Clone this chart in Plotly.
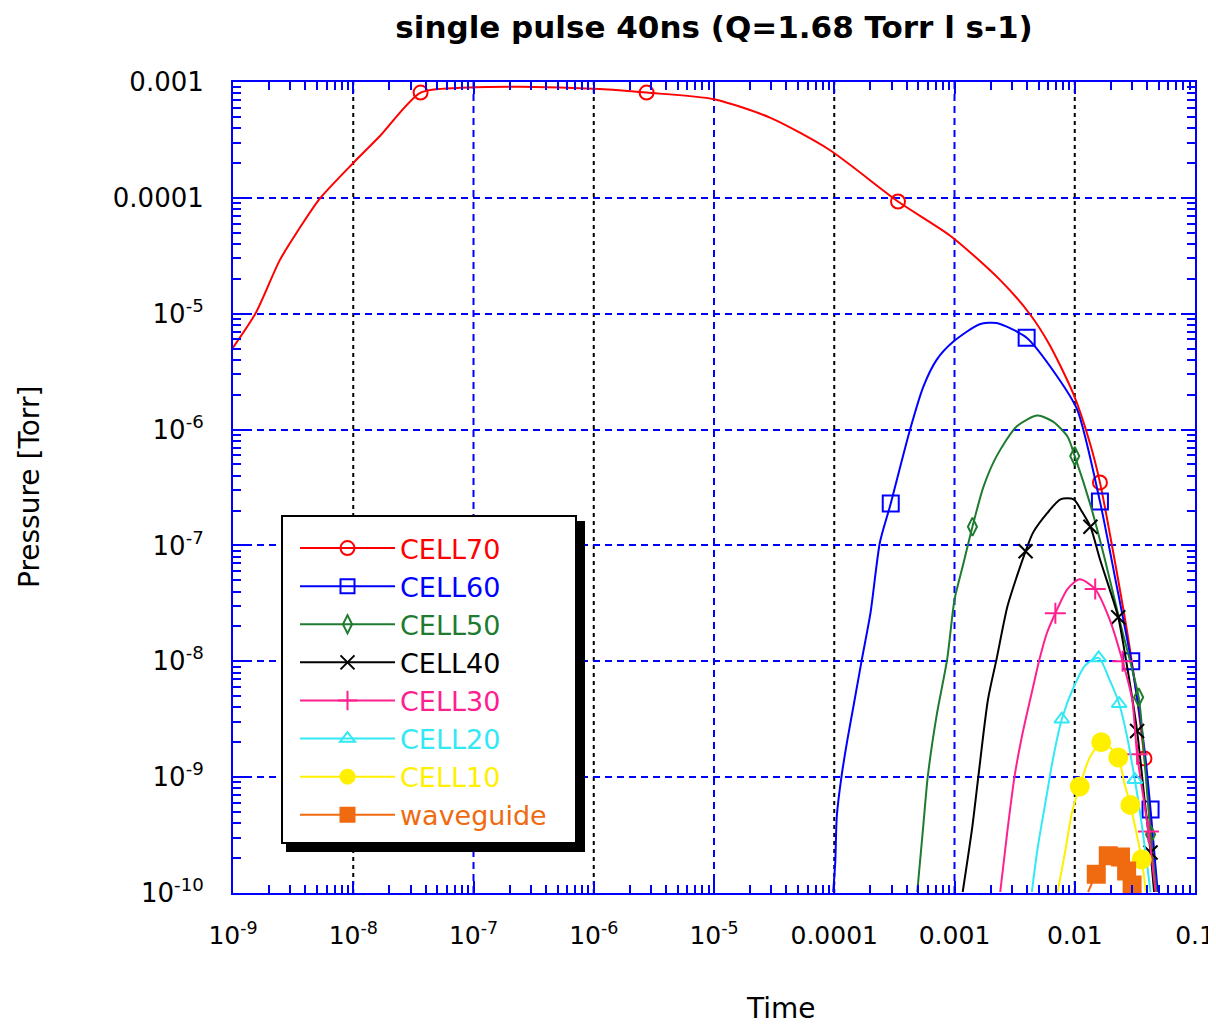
import math
import plotly.graph_objects as go

# ---------------- data ----------------
cell70_x = [1.0e-9, 1.55e-9, 2.45e-9, 3.63e-9, 5.25e-9, 1.0e-8, 1.66e-8, 3.63e-8, 7.76e-8, 2.45e-7,
            1.12e-6, 2.75e-6, 1.0e-5, 2.95e-5, 9.1e-5, 3.39e-4, 9.5e-4, 2.4e-3, 4.27e-3, 6.17e-3,
            9.8e-3, 1.35e-2, 1.62e-2, 2.14e-2, 2.88e-2, 3.8e-2, 4.37e-2, 4.79e-2]
cell70_y = [5.1e-6, 1.02e-5, 2.9e-5, 5.6e-5, 9.8e-5, 2.0e-4, 3.4e-4, 8.1e-4, 8.9e-4, 9.1e-4,
            8.7e-4, 8.1e-4, 7.1e-4, 4.9e-4, 2.6e-4, 9.3e-5, 4.6e-5, 1.95e-5, 9.8e-6, 5.4e-6,
            2.0e-6, 7.4e-7, 3.5e-7, 7.6e-8, 1.26e-8, 1.45e-9, 2.95e-10, 1.02e-10]
cell70_mx = [3.63e-8, 2.75e-6, 3.39e-4, 1.62e-2, 3.8e-2]
cell70_my = [8.1e-4, 8.1e-4, 9.3e-5, 3.5e-7, 1.45e-9]

cell60_x = [9.8e-5, 1.02e-4, 1.05e-4, 1.15e-4, 1.29e-4, 1.48e-4, 1.70e-4, 2.0e-4, 2.4e-4, 2.82e-4,
            2.95e-4, 4.27e-4, 5.5e-4, 7.1e-4, 9.8e-4, 1.62e-3, 2.24e-3, 3.98e-3, 7.1e-3, 1.05e-2,
            1.62e-2, 2.14e-2, 2.95e-2, 3.8e-2, 4.27e-2, 4.9e-2]
cell60_y = [1.02e-10, 1.86e-10, 4.6e-10, 1.02e-9, 2.14e-9, 4.7e-9, 1.05e-8, 2.6e-8, 1.07e-7, 1.95e-7,
            2.3e-7, 1.0e-6, 2.34e-6, 4.0e-6, 5.75e-6, 8.1e-6, 8.3e-6, 6.2e-6, 2.9e-6, 1.48e-6,
            2.4e-7, 5.6e-8, 1.0e-8, 1.74e-9, 5.25e-10, 1.02e-10]
cell60_mx = [2.95e-4, 3.98e-3, 1.62e-2, 2.95e-2, 4.27e-2]
cell60_my = [2.3e-7, 6.2e-6, 2.4e-7, 1.0e-8, 5.25e-10]

cell50_x = [4.9e-4, 5.5e-4, 6.0e-4, 7.1e-4, 8.7e-4, 1.0e-3, 1.17e-3, 1.41e-3, 1.74e-3, 2.24e-3,
            3.3e-3, 4.9e-3, 6.6e-3, 8.7e-3, 1.0e-2, 1.35e-2, 1.78e-2, 2.4e-2, 3.4e-2, 3.8e-2,
            4.27e-2, 4.8e-2]
cell50_y = [1.02e-10, 3.8e-10, 1.02e-9, 3.4e-9, 1.05e-8, 3.4e-8, 6.6e-8, 1.45e-7, 3.2e-7, 5.9e-7,
            1.07e-6, 1.32e-6, 1.17e-6, 8.7e-7, 5.9e-7, 2.24e-7, 7.6e-8, 2.1e-8, 4.9e-9, 1.45e-9,
            3.2e-10, 1.02e-10]
cell50_mx = [1.41e-3, 1.0e-2, 3.4e-2, 4.27e-2]
cell50_my = [1.45e-7, 5.9e-7, 4.9e-9, 3.2e-10]

cell40_x = [1.17e-3, 1.41e-3, 1.58e-3, 1.9e-3, 2.24e-3, 2.75e-3, 3.3e-3, 3.9e-3, 4.5e-3, 5.9e-3,
            7.6e-3, 9.8e-3, 1.15e-2, 1.35e-2, 1.62e-2, 1.95e-2, 2.3e-2, 2.75e-2, 3.3e-2, 3.8e-2,
            4.27e-2, 4.57e-2]
cell40_y = [1.02e-10, 3.8e-10, 1.02e-9, 4.7e-9, 1.05e-8, 2.95e-8, 5.4e-8, 8.9e-8, 1.29e-7, 1.9e-7,
            2.5e-7, 2.5e-7, 1.95e-7, 1.45e-7, 7.6e-8, 4.2e-8, 2.4e-8, 8.5e-9, 2.5e-9, 6.5e-10,
            2.24e-10, 1.02e-10]
cell40_mx = [3.9e-3, 1.35e-2, 2.3e-2, 3.3e-2, 4.27e-2]
cell40_my = [8.9e-8, 1.45e-7, 2.4e-8, 2.5e-9, 2.24e-10]

cell30_x = [2.4e-3, 2.75e-3, 3.16e-3, 3.7e-3, 4.5e-3, 5.1e-3, 5.9e-3, 6.9e-3, 8.7e-3, 1.1e-2,
            1.48e-2, 1.95e-2, 2.5e-2, 3.0e-2, 3.3e-2, 4.1e-2, 4.7e-2]
cell30_y = [1.02e-10, 3.4e-10, 1.02e-9, 2.45e-9, 6.0e-9, 1.05e-8, 1.78e-8, 2.6e-8, 4.2e-8, 5.1e-8,
            4.2e-8, 2.3e-8, 1.0e-8, 4.7e-9, 1.58e-9, 3.4e-10, 1.02e-10]
cell30_mx = [6.9e-3, 1.48e-2, 2.5e-2, 3.3e-2, 4.1e-2]
cell30_my = [2.6e-8, 4.2e-8, 1.0e-8, 1.58e-9, 3.4e-10]

cell20_x = [4.4e-3, 4.9e-3, 5.9e-3, 6.6e-3, 7.8e-3, 9.8e-3, 1.23e-2, 1.58e-2, 1.95e-2, 2.34e-2,
            2.7e-2, 3.16e-2, 3.55e-2, 4.27e-2]
cell20_y = [1.02e-10, 2.4e-10, 7.4e-10, 1.45e-9, 3.16e-9, 6.0e-9, 9.3e-9, 1.07e-8, 6.9e-9, 4.3e-9,
            2.34e-9, 9.5e-10, 4.4e-10, 1.02e-10]
cell20_mx = [7.8e-3, 1.58e-2, 2.34e-2, 3.16e-2]
cell20_my = [3.16e-9, 1.07e-8, 4.3e-9, 9.5e-10]

cell10_x = [7.2e-3, 8.3e-3, 9.5e-3, 1.1e-2, 1.32e-2, 1.66e-2, 1.95e-2, 2.3e-2, 2.6e-2, 2.9e-2,
            3.24e-2, 3.6e-2, 3.9e-2]
cell10_y = [1.02e-10, 2.24e-10, 5.0e-10, 8.3e-10, 1.45e-9, 2.0e-9, 1.82e-9, 1.48e-9, 8.7e-10, 5.75e-10,
            3.4e-10, 1.95e-10, 1.02e-10]
cell10_mx = [1.1e-2, 1.66e-2, 2.3e-2, 2.9e-2, 3.6e-2]
cell10_my = [8.3e-10, 2.0e-9, 1.48e-9, 5.75e-10, 1.95e-10]

wg_x = [1.29e-2, 1.51e-2, 1.9e-2, 2.4e-2, 2.7e-2, 3.0e-2, 3.24e-2]
wg_y = [1.02e-10, 1.45e-10, 2.1e-10, 2.05e-10, 1.55e-10, 1.17e-10, 1.02e-10]
wg_mx = [1.51e-2, 1.9e-2, 2.4e-2, 2.7e-2, 3.0e-2]
wg_my = [1.45e-10, 2.1e-10, 2.05e-10, 1.55e-10, 1.17e-10]

series_names = ["CELL70", "CELL60", "CELL50", "CELL40", "CELL30", "CELL20", "CELL10", "waveguide"]

x_tick_vals = [1e-9, 1e-8, 1e-7, 1e-6, 1e-5, 1e-4, 1e-3, 1e-2, 1e-1]
x_tick_text = ["10<sup>-9</sup>", "10<sup>-8</sup>", "10<sup>-7</sup>", "10<sup>-6</sup>",
               "10<sup>-5</sup>", "0.0001", "0.001", "0.01", "0.1"]
y_tick_vals = [1e-10, 1e-9, 1e-8, 1e-7, 1e-6, 1e-5, 1e-4, 1e-3]
y_tick_text = ["10<sup>-10</sup>", "10<sup>-9</sup>", "10<sup>-8</sup>", "10<sup>-7</sup>",
               "10<sup>-6</sup>", "10<sup>-5</sup>", "0.0001", "0.001"]

# ---------------- styles ----------------
styles = [
    dict(color="#FF0000", symbol="circle-open", size=14),
    dict(color="#0000FF", symbol="square-open", size=16),
    dict(color="#1E7B30", symbol="diamond-tall-open", size=13),
    dict(color="#000000", symbol="x-thin-open", size=14),
    dict(color="#FF2090", symbol="cross-thin-open", size=15),
    dict(color="#33E8F5", symbol="triangle-up-open", size=13),
    dict(color="#FFF000", symbol="circle", size=18),
    dict(color="#F06A10", symbol="square", size=17),
]

lines = [(cell70_x, cell70_y), (cell60_x, cell60_y), (cell50_x, cell50_y), (cell40_x, cell40_y),
         (cell30_x, cell30_y), (cell20_x, cell20_y), (cell10_x, cell10_y), (wg_x, wg_y)]
marks = [(cell70_mx, cell70_my), (cell60_mx, cell60_my), (cell50_mx, cell50_my), (cell40_mx, cell40_my),
         (cell30_mx, cell30_my), (cell20_mx, cell20_my), (cell10_mx, cell10_my), (wg_mx, wg_my)]

FONT = "DejaVu Sans"
# page body has an 8px margin: figure is shifted by (8, 8) in the page
W, H = 1208, 1019
ML, MR, MT, MB = 225, 21, 74, 134
PW, PH = W - ML - MR, H - MT - MB   # 962 x 811 plot area
OFF = 8


def px(xp):   # page x pixel -> paper x
    return (xp - OFF - ML) / PW


def py(yp):   # page y pixel -> paper y
    return (H - MB + OFF - yp) / PH


fig = go.Figure()

for name, st, (lx, ly), (mx, my) in zip(series_names, styles, lines, marks):
    fig.add_trace(go.Scatter(x=lx, y=ly, mode="lines", showlegend=False,
                             line=dict(color=st["color"], width=2, shape="spline", smoothing=0.7),
                             hoverinfo="skip"))
    fig.add_trace(go.Scatter(x=mx, y=my, mode="markers", showlegend=False,
                             marker=dict(color=st["color"], symbol=st["symbol"], size=st["size"],
                                         line=dict(color=st["color"], width=2))))

# legend-only entries (line + marker)
for name, st in zip(series_names, styles):
    fig.add_trace(go.Scatter(x=[None], y=[None], mode="lines+markers",
                             name=f"<span style='color:{st['color']}'>{name}</span>",
                             line=dict(color=st["color"], width=2),
                             marker=dict(color=st["color"], symbol=st["symbol"], size=min(st["size"], 14),
                                         line=dict(color=st["color"], width=2))))

# vertical grid lines alternating black / blue
shapes = []
for v in x_tick_vals[1:-1]:
    e = round(math.log10(v))
    col = "#000000" if e % 2 == 0 else "#0000FF"
    dash = "4px,4px" if e % 2 == 0 else "7px,5px"
    shapes.append(dict(type="line", xref="x", yref="paper", x0=v, x1=v, y0=0, y1=1,
                       line=dict(color=col, width=2, dash=dash), layer="below"))

# legend shadow + legend box
shapes.append(dict(type="rect", xref="paper", yref="paper",
                   x0=px(286), x1=px(585), y0=py(852), y1=py(521),
                   fillcolor="black", line=dict(width=0), layer="above"))
shapes.append(dict(type="rect", xref="paper", yref="paper",
                   x0=px(282), x1=px(576), y0=py(843), y1=py(516),
                   fillcolor="white", line=dict(color="black", width=2), layer="above"))

minor_x = [k * 10.0 ** e for e in range(-9, -1) for k in range(2, 10)]
minor_y = [k * 10.0 ** e for e in range(-10, -3) for k in range(2, 10)]

fig.update_layout(
    width=W, height=H, autosize=False,
    paper_bgcolor="white", plot_bgcolor="white",
    margin=dict(l=ML, r=MR, t=MT, b=MB, autoexpand=False),
    font=dict(family=FONT, size=24, color="black"),
    title=dict(text="<b>single pulse 40ns (Q=1.68 Torr l s-1)</b>", x=(714 - OFF) / W, xanchor="center",
               y=1 - (27 - OFF) / H, yanchor="middle", yref="container", automargin=False,
               font=dict(family=FONT, size=31, color="black")),
    shapes=shapes,
    legend=dict(x=px(295), y=py(524), xanchor="left", yanchor="top",
                bgcolor="rgba(0,0,0,0)", borderwidth=0,
                font=dict(family=FONT, size=27), itemwidth=95, tracegroupgap=0),
    showlegend=True,
)

fig.update_xaxes(type="log", range=[-9, -1], tickmode="array", tickvals=x_tick_vals, ticktext=x_tick_text,
                 automargin=False,
                 showgrid=False, zeroline=False, showline=True, linecolor="#0000FF", linewidth=2,
                 mirror="ticks", ticks="inside", ticklen=12, tickcolor="#0000FF", tickwidth=2,
                 tickfont=dict(family=FONT, size=25), ticklabelstandoff=19,
                 minor=dict(tickmode="array", tickvals=minor_x, ticks="inside", ticklen=8,
                            tickcolor="#0000FF", tickwidth=2, showgrid=False))
fig.update_yaxes(type="log", range=[-10, -3], tickmode="array", tickvals=y_tick_vals, ticktext=y_tick_text,
                 automargin=False,
                 showgrid=True, gridcolor="#0000FF", gridwidth=2, griddash="7px,5px",
                 zeroline=False, showline=True, linecolor="#0000FF", linewidth=2,
                 mirror="ticks", ticks="inside", ticklen=12, tickcolor="#0000FF", tickwidth=2,
                 tickfont=dict(family=FONT, size=26), ticklabelstandoff=22,
                 minor=dict(tickmode="array", tickvals=minor_y, ticks="inside", ticklen=8,
                            tickcolor="#0000FF", tickwidth=2, showgrid=False))

fig.add_annotation(text="Pressure [Torr]", xref="paper", yref="paper", x=px(30), y=py(487),
                   textangle=-90, showarrow=False, font=dict(family=FONT, size=28),
                   xanchor="center", yanchor="middle")
fig.add_annotation(text="Time", xref="paper", yref="paper", x=px(781), y=py(1009),
                   showarrow=False, font=dict(family=FONT, size=28), xanchor="center", yanchor="middle")

fig.write_html("out.html")
